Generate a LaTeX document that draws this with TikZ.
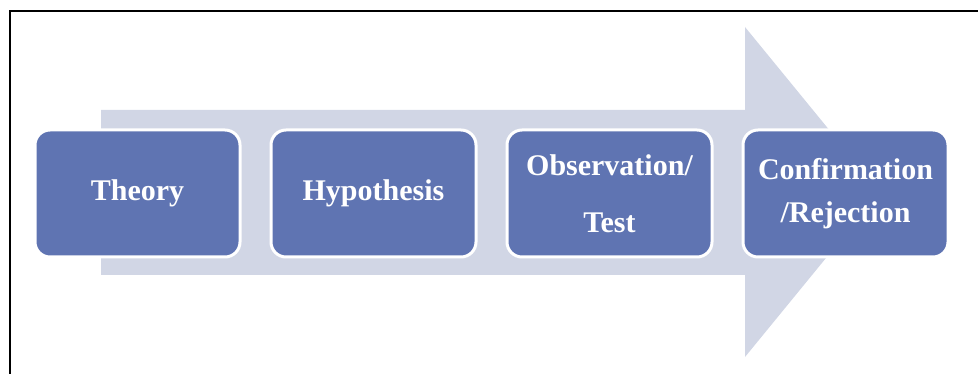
\documentclass[tikz,border=0pt]{standalone}
\usepackage{fontspec}
\setmainfont{Liberation Serif}
\begin{document}
\definecolor{stepblue}{HTML}{5F74B2}
\definecolor{arrowgrey}{HTML}{D1D6E5}
\begin{tikzpicture}[x=1pt,y=-1pt,
  stagebox/.style={rectangle, rounded corners=15pt, fill=stepblue, draw=white,
    line width=3pt, minimum width=205pt, minimum height=127pt, inner sep=0pt,
    text=white, align=center, font=\fontsize{30}{36}\selectfont\bfseries},
  frameline/.style={black, line width=2.6pt}]
  \useasboundingbox (0,0) rectangle (978,374);
  % outer frame (top and left edges)
  \draw[frameline] (10,374) -- (10,11) -- (978,11);
  % large background arrow
  \fill[arrowgrey] (101,110) -- (745,110) -- (745,27) -- (880,192)
    -- (745,357) -- (745,275) -- (101,275) -- cycle;
  % stages
  \node[stagebox] (theory) at (137.5,193.5) {Theory};
  \node[stagebox] (hyp) at (373.5,193.5) {Hypothesis};
  \node[stagebox] (obs) at (609.5,193.5) {Observation/\\[21pt]Test};
  \node[stagebox] (conf) at (845.5,193.5) {Confirmation\\[7pt]/Rejection};
\end{tikzpicture}
\end{document}
